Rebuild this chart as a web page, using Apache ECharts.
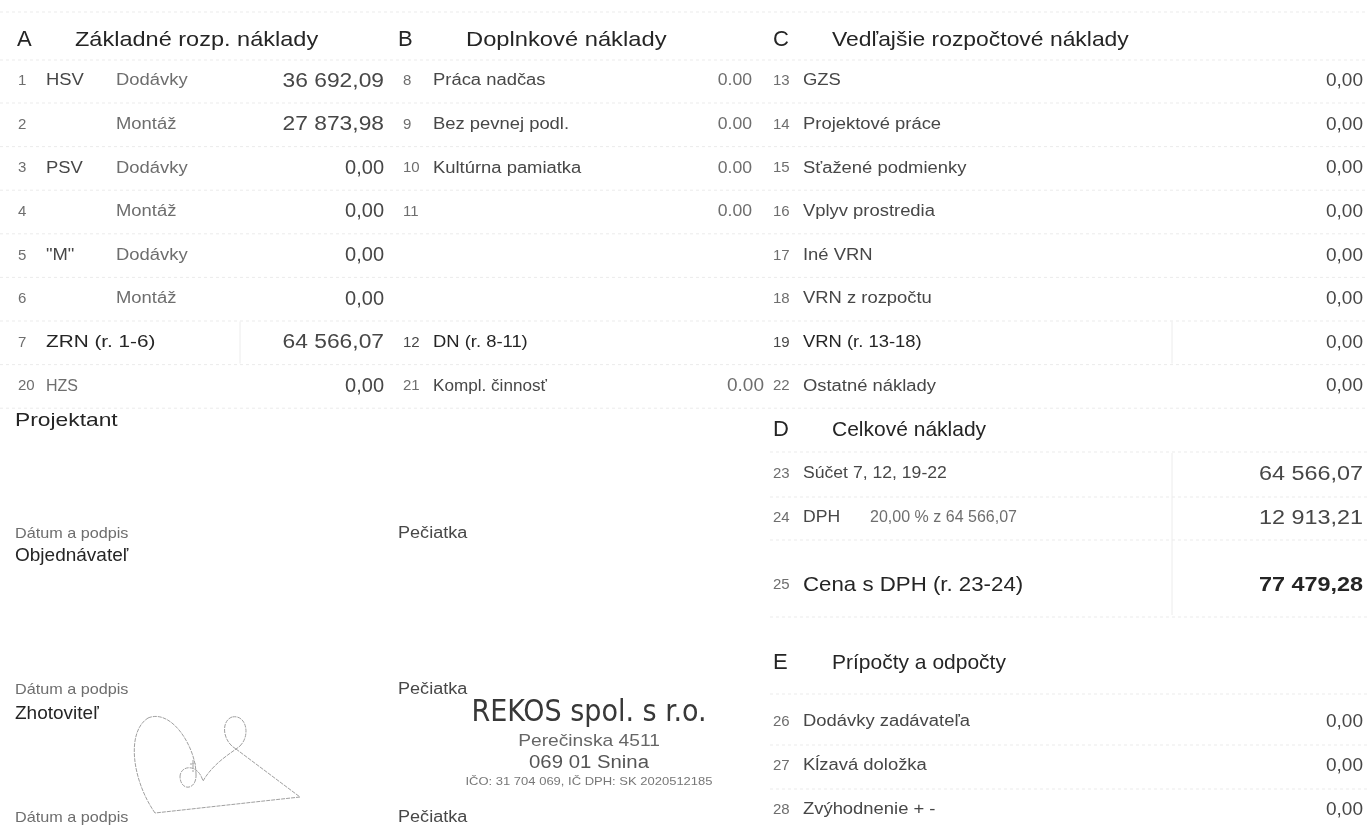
<!DOCTYPE html>
<html><head><meta charset="utf-8">
<script src="https://cdn.jsdelivr.net/npm/echarts@6/dist/echarts.min.js"></script>
<style>html,body{margin:0;padding:0;background:#fff}#c{width:1367px;height:826px}</style>
</head><body><div id="c"></div><script>
// ---------- data ----------
const sectionLetters = ['A', 'B', 'C', 'D', 'E'];
const sectionTitles = ['Základné rozp. náklady', 'Doplnkové náklady', 'Vedľajšie rozpočtové náklady', 'Celkové náklady', 'Prípočty a odpočty'];

const aRowNums = ['1', '2', '3', '4', '5', '6', '7', '20'];
const aGroups = ['HSV', '', 'PSV', '', '"M"', '', 'ZRN (r. 1-6)', 'HZS'];
const aItems = ['Dodávky', 'Montáž', 'Dodávky', 'Montáž', 'Dodávky', 'Montáž', '', ''];
const aValues = [36692.09, 27873.98, 0, 0, 0, 0, 64566.07, 0];

const bRowNums = ['8', '9', '10', '11', '12', '21'];
const bRowSlots = [0, 1, 2, 3, 6, 7];
const bItems = ['Práca nadčas', 'Bez pevnej podl.', 'Kultúrna pamiatka', '', 'DN (r. 8-11)', 'Kompl. činnosť'];
const bValues = [0, 0, 0, 0, null, 0];

const cRowNums = ['13', '14', '15', '16', '17', '18', '19', '22'];
const cItems = ['GZS', 'Projektové práce', 'Sťažené podmienky', 'Vplyv prostredia', 'Iné VRN', 'VRN z rozpočtu', 'VRN (r. 13-18)', 'Ostatné náklady'];
const cValues = [0, 0, 0, 0, 0, 0, 0, 0];

const dRowNums = ['23', '24', '25'];
const dItems = ['Súčet 7, 12, 19-22', 'DPH', 'Cena s DPH (r. 23-24)'];
const dValues = [64566.07, 12913.21, 77479.28];
const vatRate = 20.00;
const vatBase = 64566.07;

const eRowNums = ['26', '27', '28'];
const eItems = ['Dodávky zadávateľa', 'Kĺzavá doložka', 'Zvýhodnenie + -'];
const eValues = [0, 0, 0];

const signRoles = ['Projektant', 'Objednávateľ', 'Zhotoviteľ'];
const signDate = 'Dátum a podpis';
const signStamp = 'Pečiatka';
const stampLines = ['REKOS spol. s r.o.', 'Perečinska 4511', '069 01 Snina', 'IČO: 31 704 069, IČ DPH: SK 2020512185'];

// ---------- helpers ----------
function fmt(v, dec) {
  const s = v.toFixed(2).split('.');
  const int = s[0].replace(/\B(?=(\d{3})+(?!\d))/g, ' ');
  return int + (dec || ',') + s[1];
}
const FONT = '"Liberation Sans", Arial, sans-serif';
const NARROW = '"Liberation Sans Narrow", "DejaVu Sans Condensed", sans-serif';
const DARK = '#252525', MID = '#474747', LIGHT = '#6e6e6e';
const LBL = 1.15;   // horizontal stretch of the scanned labels
const bigSx = v => (Math.abs(v) >= 1000 ? 1.14 : 1.0);

const items = [];
function T(x, y, text, o) {
  o = o || {};
  items.push({
    x: x, y: y, text: text,
    size: o.size || 16, color: o.color || LIGHT, bold: !!o.bold,
    font: o.font || FONT, align: o.align || 'left', sx: o.sx || 1
  });
}

// ---------- layout ----------
const colA = { num: 18, group: 46, item: 116, val: 384 };
const colB = { num: 403, item: 433, val: 752, valWide: 764 };
const colC = { num: 773, item: 803, val: 1363 };
const rowY = i => 81 + i * 43.6;
const headY = [40, 40, 40, 430, 663];
const headX = [[17, 75], [398, 466], [773, 832], [773, 832], [773, 832]];
const headSx = [1.12, 1.13, 1.09, 1.0, 1.0];
const dRowY = [474, 518, 585];
const eRowY = [722, 766, 810];

sectionLetters.forEach((l, i) => {
  T(headX[i][0], headY[i], l, { size: 22, color: DARK });
  T(headX[i][1], headY[i], sectionTitles[i], { size: 21, color: DARK, sx: headSx[i] });
});
aRowNums.forEach((n, i) => {
  const y = rowY(i);
  const strong = i === 6;
  T(colA.num, y, n, { size: 15, color: LIGHT });
  if (aGroups[i]) T(colA.group, y, aGroups[i], { size: strong ? 17 : 16, color: strong ? DARK : (i === 7 ? LIGHT : MID), sx: strong ? 1.22 : (i === 7 ? 1.0 : LBL) });
  if (aItems[i]) T(colA.item, y, aItems[i], { size: 16, color: LIGHT, sx: LBL });
  T(colA.val, y, fmt(aValues[i]), { size: 20, color: MID, align: 'right', sx: bigSx(aValues[i]) });
});
bRowNums.forEach((n, i) => {
  const y = rowY(bRowSlots[i]);
  const strong = bRowSlots[i] === 6;
  const last = bRowSlots[i] === 7;
  T(colB.num, y, n, { size: 15, color: strong ? MID : LIGHT });
  if (bItems[i]) T(colB.item, y, bItems[i], { size: 16, color: strong ? DARK : MID, sx: last ? 1.07 : LBL });
  if (bValues[i] !== null) T(last ? colB.valWide : colB.val, y, fmt(bValues[i], '.'), { size: last ? 19 : 16, color: LIGHT, align: 'right', sx: last ? 1 : 1.1 });
});
cRowNums.forEach((n, i) => {
  const y = rowY(i);
  const strong = i === 6;
  T(colC.num, y, n, { size: 15, color: strong ? MID : LIGHT });
  T(colC.item, y, cItems[i], { size: 16, color: strong ? DARK : MID, sx: LBL });
  T(colC.val, y, fmt(cValues[i]), { size: 19, color: MID, align: 'right' });
});
dRowNums.forEach((n, i) => {
  const y = dRowY[i];
  const total = i === 2;
  T(colC.num, y, n, { size: 15, color: LIGHT });
  T(colC.item, y, dItems[i], { size: total ? 21 : 16, color: total ? DARK : MID, sx: total ? 1.06 : 1.1 });
  T(colC.val, y, fmt(dValues[i]), { size: 20, color: total ? DARK : MID, bold: total, align: 'right', sx: 1.17 });
});
T(870, dRowY[1], fmt(vatRate) + ' % z', { size: 16, color: LIGHT });
T(1017, dRowY[1], fmt(vatBase), { size: 16, color: LIGHT, align: 'right' });
eRowNums.forEach((n, i) => {
  const y = eRowY[i];
  T(colC.num, y, n, { size: 15, color: LIGHT });
  T(colC.item, y, eItems[i], { size: 16, color: MID, sx: LBL });
  T(colC.val, y, fmt(eValues[i]), { size: 19, color: MID, align: 'right' });
});
const roleY = [421, 556, 714];
const roleSx = [1.2, 1.0, 1.0];
const dateY = [534, 690, 818];
signRoles.forEach((r, i) => {
  T(15, roleY[i], r, { size: 19, color: DARK, sx: roleSx[i] });
  T(15, dateY[i], signDate, { size: 15, color: LIGHT, sx: 1.08 });
  T(398, dateY[i], signStamp, { size: 16, color: MID, sx: 1.13 });
});
const stampY = [713, 741, 763, 782];
const stampSize = [30, 17, 18, 11.5];
const stampFont = [NARROW, FONT, FONT, FONT];
const stampColor = ['#383838', '#666', '#555', '#777'];
const stampSx = [1.0, 1.13, 1.13, 1.13];
stampLines.forEach((s, i) => {
  T(589, stampY[i], s, { size: stampSize[i], color: stampColor[i], font: stampFont[i], align: 'center', sx: stampSx[i] });
});

// faint scanned rules
const ruleColor = '#ececec';
const rules = [];
function hline(x1, x2, y) {
  rules.push({ type: 'line', silent: true, shape: { x1: x1, y1: y, x2: x2, y2: y }, style: { stroke: ruleColor, lineWidth: 1, lineDash: [3, 3] } });
}
hline(0, 1367, 12);
hline(0, 1367, 60);
for (let i = 0; i < 8; i++) hline(0, 1367, rowY(i) + 22);
[452, 497, 540, 617, 694, 745, 789].forEach(y => hline(770, 1367, y));
function vline(x, y1, y2) {
  rules.push({ type: 'line', silent: true, shape: { x1: x, y1: y1, x2: x, y2: y2 }, style: { stroke: ruleColor, lineWidth: 1 } });
}
vline(240, rowY(6) - 21, rowY(6) + 21);
vline(1172, rowY(6) - 21, rowY(6) + 21);
vline(1172, dRowY[0] - 21, dRowY[2] + 30);

// signature scribble
const sigStyle = { stroke: '#a0a0a0', lineWidth: 1, fill: null, lineDash: [4, 1] };
const sigCurves = [
  [155, 813, 132, 780, 126, 732, 148, 718],
  [148, 718, 172, 708, 196, 748, 196, 774],
  [196, 774, 197, 790, 181, 792, 180, 777],
  [180, 777, 180, 765, 198, 763, 203, 781],
  [203, 781, 214, 762, 233, 752, 240, 746],
  [240, 746, 251, 735, 246, 714, 232, 717],
  [232, 717, 221, 721, 222, 741, 236, 749]
];
const signature = sigCurves.map(c => ({
  type: 'bezierCurve', silent: true,
  shape: { x1: c[0], y1: c[1], cpx1: c[2], cpy1: c[3], cpx2: c[4], cpy2: c[5], x2: c[6], y2: c[7] },
  style: sigStyle
}));
signature.push({ type: 'polyline', silent: true, shape: { points: [[236, 749], [300, 797], [155, 813]] }, style: sigStyle });
signature.push({ type: 'line', silent: true, shape: { x1: 190, y1: 764, x2: 196, y2: 764 }, style: sigStyle });
signature.push({ type: 'line', silent: true, shape: { x1: 193, y1: 760, x2: 193, y2: 772 }, style: sigStyle });

const chart = echarts.init(document.getElementById('c'));
chart.setOption({
  backgroundColor: '#ffffff',
  animation: false,
  grid: { left: 0, right: 0, top: 0, bottom: 0 },
  xAxis: { type: 'value', min: 0, max: 1367, show: false },
  yAxis: { type: 'value', min: 0, max: 826, inverse: true, show: false },
  graphic: rules.concat(signature),
  series: [{
    type: 'custom', silent: true, clip: false,
    encode: { x: 0, y: 1 },
    data: items.map(d => [d.x, d.y]),
    renderItem: function (params, api) {
      const d = items[params.dataIndex];
      const p = api.coord([api.value(0), api.value(1)]);
      return {
        type: 'text', x: p[0], y: p[1], scaleX: d.sx, scaleY: 1,
        style: {
          text: d.text, fill: d.color, fontSize: d.size, fontFamily: d.font,
          fontWeight: d.bold ? 'bold' : 'normal', align: d.align, verticalAlign: 'middle'
        }
      };
    }
  }]
});
</script></body></html>
